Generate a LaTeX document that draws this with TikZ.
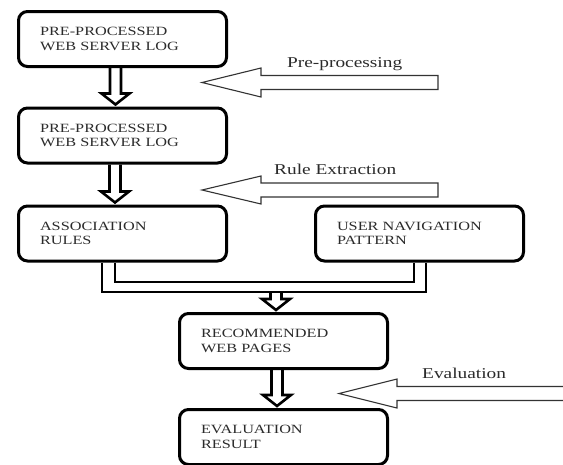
\documentclass[tikz,border=0pt]{standalone}
\usepackage{fontspec}
\setmainfont{Liberation Serif}[FakeStretch=1.29]
\usetikzlibrary{calc}
\definecolor{textgray}{HTML}{2B2B2B}
\definecolor{arrowgray}{HTML}{333333}

% hollow double-line arrow pointing down: #1 = top of shaft, #2 = tip
\newcommand{\hollowdown}[2]{%
  \draw[hollow] let \p1=(#1), \p2=(#2) in
    (\x2-5.5pt,\y1) -- (\x2-5.5pt,\y2+11pt) -- (\x2-14pt,\y2+11pt) -- (\x2,\y2)
    -- (\x2+14pt,\y2+11pt) -- (\x2+5.5pt,\y2+11pt) -- (\x2+5.5pt,\y1);}

\begin{document}
\begin{tikzpicture}[x=1pt,y=1pt,
  stage/.style={draw=black, line width=3pt, rounded corners=9pt,
    minimum width=208pt, minimum height=55pt, text width=165pt,
    inner xsep=21.5pt, inner ysep=0pt, align=left, text=textgray,
    font=\fontsize{12.6}{14.5}\selectfont},
  hollow/.style={draw=black, line width=2.6pt, line join=miter},
  link/.style={draw=black, line width=2.6pt},
  blockarrow/.style={draw=arrowgray, line width=1.1pt, line join=miter},
  steplabel/.style={anchor=base west, inner sep=0pt, text=textgray,
    font=\fontsize{15}{18}\selectfont}]

\useasboundingbox[fill=white] (0,0) rectangle (563,-464);

% process stages
\node[stage] (b1) at (122.5,-39)   {PRE-PROCESSED\\WEB SERVER LOG};
\node[stage] (b2) at (122.5,-135.5){PRE-PROCESSED\\WEB SERVER LOG};
\node[stage] (b3) at (122.5,-233.5){ASSOCIATION\\RULES};
\node[stage] (b4) at (419.5,-233.5){USER NAVIGATION\\PATTERN};
\node[stage] (b5) at (283.5,-341)  {RECOMMENDED\\WEB PAGES};
\node[stage] (b6) at (283.5,-437)  {EVALUATION\\RESULT};

% junction points of the merging double line
\coordinate (j)  at (276,-292);
\coordinate (ji) at (276,-282);

% flow between stages
\hollowdown{$(b1.south)+(-7,0)$}{$(b2.north)+(-7,2)$}
\hollowdown{$(b2.south)+(-7.5,0)$}{$(b3.north)+(-7.5,2)$}
\draw[link] ($(b3.south)+(-20.5,0)$) |- (j) -| ($(b4.south)+(6.5,0)$);
\draw[link] ($(b3.south)+(-7.5,0)$) |- (ji) -| ($(b4.south)+(-5.5,0)$);
\hollowdown{j}{$(b5.north)+(-7.5,2)$}
\hollowdown{$(b5.south)+(-6.5,0)$}{$(b6.north)+(-6.5,2)$}

% process step arrows
\draw[blockarrow] (438,-75.5) -- (261,-75.5) -- (261,-68) -- (202,-82.5)
  -- (261,-97) -- (261,-89.5) -- (438,-89.5) -- cycle;
\draw[blockarrow] (438,-183) -- (261,-183) -- (261,-176) -- (202,-190)
  -- (261,-204) -- (261,-197) -- (438,-197) -- cycle;
\draw[blockarrow] (570,-386.5) -- (397,-386.5) -- (397,-379) -- (339,-393.5)
  -- (397,-408) -- (397,-400.5) -- (570,-400.5);

\node[steplabel] (lpre)  at (287,-67)  {Pre-processing};
\node[steplabel] (lrule) at (274,-174) {Rule Extraction};
\node[steplabel] (leval) at (422,-378) {Evaluation};
\end{tikzpicture}
\end{document}
